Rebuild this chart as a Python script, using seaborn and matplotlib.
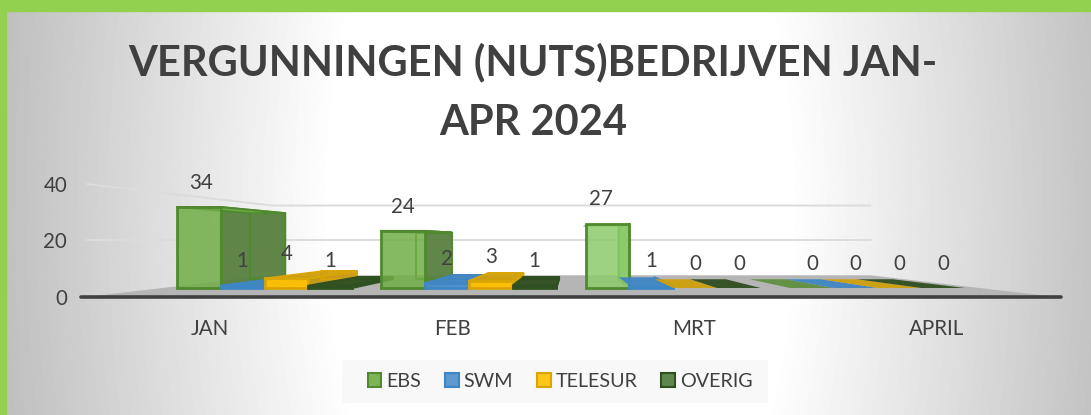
import numpy as np
import pandas as pd
import matplotlib
matplotlib.use("Agg")
import matplotlib.pyplot as plt
from matplotlib.patches import Polygon, Rectangle
import seaborn as sns

maanden = ["JAN", "FEB", "MRT", "APRIL"]
bedrijven = ["EBS", "SWM", "TELESUR", "OVERIG"]
ebs = [34, 24, 27, 0]
swm = [1, 2, 1, 0]
telesur = [4, 3, 0, 0]
overig = [1, 1, 0, 0]
y_ticks = [0, 20, 40]

W, H = 1091, 415
TEXT = "#404040"
FILL = ["#70AD47", "#4A8FCC", "#FFC000", "#4E7A38"]
EDGE = ["#4F8A2E", "#3F86C4", "#D9A406", "#2F5020"]
TOP = ["#5F9141", "#3F86C4", "#CFA00C", "#2F4D1F"]
SIDE = ["#57803F", "#3F78AE", "#C79A10", "#2F4D1F"]

sns.set_theme(style="white")
plt.rcParams["font.family"] = ["Lato", "DejaVu Sans"]

df = pd.DataFrame({
    "maand": maanden * 4,
    "bedrijf": np.repeat(bedrijven, 4),
    "aantal": ebs + swm + telesur + overig,
})

fig = plt.figure(figsize=(W / 100, H / 100), dpi=100)

# background, white in the middle and grey to the sides
bg = fig.add_axes([0, 0, 1, 1], zorder=0)
gx, gy = np.meshgrid(np.arange(W), np.arange(H))
dist = np.sqrt((gx - 560.0) ** 2 + (0.5 * (gy - 207.0)) ** 2)
shade = 1 - 0.25 * np.clip((dist - 230) / 330, 0, 1)
bg.imshow(shade, cmap="gray", vmin=0, vmax=1, aspect="auto")
bg.axis("off")
fig.add_artist(Rectangle((0, 1 - 11 / H), 1, 11 / H, color="#92D050", transform=fig.transFigure, zorder=5))
fig.add_artist(Rectangle((0, 0), 6 / W, 1, color="#92D050", transform=fig.transFigure, zorder=5))
# pale box behind the legend
fig.add_artist(Rectangle((342 / W, 1 - 403 / H), 426 / W, 43 / H, facecolor="#F7F7F7", edgecolor="none",
                         alpha=0.85, transform=fig.transFigure, zorder=1))

# main axes, 204.3 px per category and 2.38 px per unit
px_x, px_y = 204.3, 2.38
left_px, right_px, top_px, bottom_px = 72, 1075, 150, 297
ax = fig.add_axes([left_px / W, 1 - bottom_px / H, (right_px - left_px) / W, (bottom_px - top_px) / H], zorder=2)
ax.patch.set_alpha(0)

sns.barplot(data=df, x="maand", y="aantal", hue="bedrijf", order=maanden, hue_order=bedrijven,
            palette=FILL, saturation=1, width=0.857, gap=0, ax=ax, legend=True)

ax.set_xlim((left_px - 264.6) / px_x, (right_px - 264.6) / px_x)
ax.set_ylim((288 - bottom_px) / px_y, (288 - top_px) / px_y)

# fake 3D, everything recedes to one vanishing point
VX, VY = 1.5, 20.0
K_FRONT, K_BAR, K_BACK = 1.185, 0.816, 0.733


def proj(x, y, k):
    return VX + k * (x - VX), VY + k * (y - VY)


def face(points, color, edge, z, alpha=1.0, lw=1.4):
    ax.add_patch(Polygon(points, closed=True, facecolor=matplotlib.colors.to_rgba(color, alpha),
                         edgecolor=edge, linewidth=lw, zorder=z, joinstyle="round"))


# floor and edge
face([proj(-0.5, 0, K_FRONT), proj(3.5, 0, K_FRONT), proj(3.5, 0, K_BACK), proj(-0.5, 0, K_BACK)],
     "#B5B5B5", "none", 1)
x0, y0 = proj(-0.5, 0, K_FRONT)
x1, _ = proj(3.5, 0, K_FRONT)
ax.plot([x0 - 0.03, x1 + 0.03], [y0, y0], color=TEXT, lw=2.6, solid_capstyle="round", zorder=2, clip_on=False)

# gridlines on the back and left wall
for v in y_ticks[1:]:
    a = proj(-0.5, v, K_FRONT)
    b = proj(-0.5, v, K_BACK)
    c = proj(3.5, v, K_BACK)
    ax.plot([a[0], b[0], c[0]], [a[1], b[1], c[1]], color="#DCDCDC", lw=1.4, zorder=1)

# side and top faces from the bars seaborn drew
order = 10
for g in range(4):
    for s, cont in enumerate(ax.containers):
        p = cont.patches[g]
        xa, xb, h = p.get_x(), p.get_x() + p.get_width(), p.get_height()
        past_vp = xa > VX
        front = "#8CCB6A" if (past_vp and h > 0) else FILL[s]
        if h > 0:
            side = front if past_vp else SIDE[s]
            face([(xb, 0), proj(xb, 0, K_BAR), proj(xb, h, K_BAR), (xb, h)], side, EDGE[s], order, 0.95)
            if not past_vp:
                # back edge shows through the side
                face([proj(xa, 0, K_BAR), proj(xb, 0, K_BAR), proj(xb, h, K_BAR), proj(xa, h, K_BAR)],
                     FILL[s], EDGE[s], order + 1, 0.0)
        top_edge = EDGE[s] if (h > 0 and not past_vp) else "none"
        face([(xa, h), (xb, h), proj(xb, h, K_BAR), proj(xa, h, K_BAR)],
             TOP[s] if h < 20 else front, top_edge, order + 2, 0.95)
        p.set_zorder(order + 3)
        p.set_alpha(None)
        p.set_facecolor(matplotlib.colors.to_rgba(front, 0.85 if h >= 20 else 0.97))
        p.set_edgecolor(EDGE[s] if h > 0 else "none")
        p.set_linewidth(2.0)
        order += 4

# px the EBS labels sit off the bar centre
ebs_nudge = [2, 0, -7, 0]
for s, cont in enumerate(ax.containers):
    labels_txt = ax.bar_label(cont, padding=17.5, fontsize=14.8, color=TEXT, zorder=200)
    for g, t in enumerate(labels_txt):
        t.set_va("center")
        if s == 0:
            t.xyann = (ebs_nudge[g] * 0.72, t.xyann[1])

# tick labels sit on the front edge of the floor
ax.set_xticks([proj(i, 0, K_FRONT)[0] + 2 / px_x for i in range(4)], maanden)
ax.set_yticks([proj(0, v, K_FRONT)[1] for v in y_ticks], y_ticks)
ax.tick_params(axis="x", length=0, pad=15.5, labelsize=14.8, labelcolor=TEXT)
ax.tick_params(axis="y", length=0, pad=3.5, labelsize=14.8, labelcolor=TEXT)
ax.set_xlabel("")
ax.set_ylabel("")
sns.despine(ax=ax, left=True, bottom=True)

handles, labels = ax.get_legend_handles_labels()
for h, c, e in zip(handles, FILL, EDGE):
    h.set_facecolor(matplotlib.colors.to_rgba(c, 0.9))
    h.set_edgecolor(e)
    h.set_linewidth(1.5)
leg = ax.legend(handles, labels, ncols=4, loc="center", bbox_to_anchor=(560 / W, 1 - 381 / H),
                bbox_transform=fig.transFigure, frameon=False, fontsize=14.2, labelcolor=TEXT, handlelength=0.7,
                handleheight=0.7, handletextpad=0.25, columnspacing=1.2)

fig.text(533 / W, 1 - 92.5 / H, "VERGUNNINGEN (NUTS)BEDRIJVEN JAN-\nAPR 2024", ha="center", va="center",
         fontsize=30, fontweight="bold", color=TEXT, linespacing=1.69, zorder=6)

fig.savefig("out.png", dpi=100)
